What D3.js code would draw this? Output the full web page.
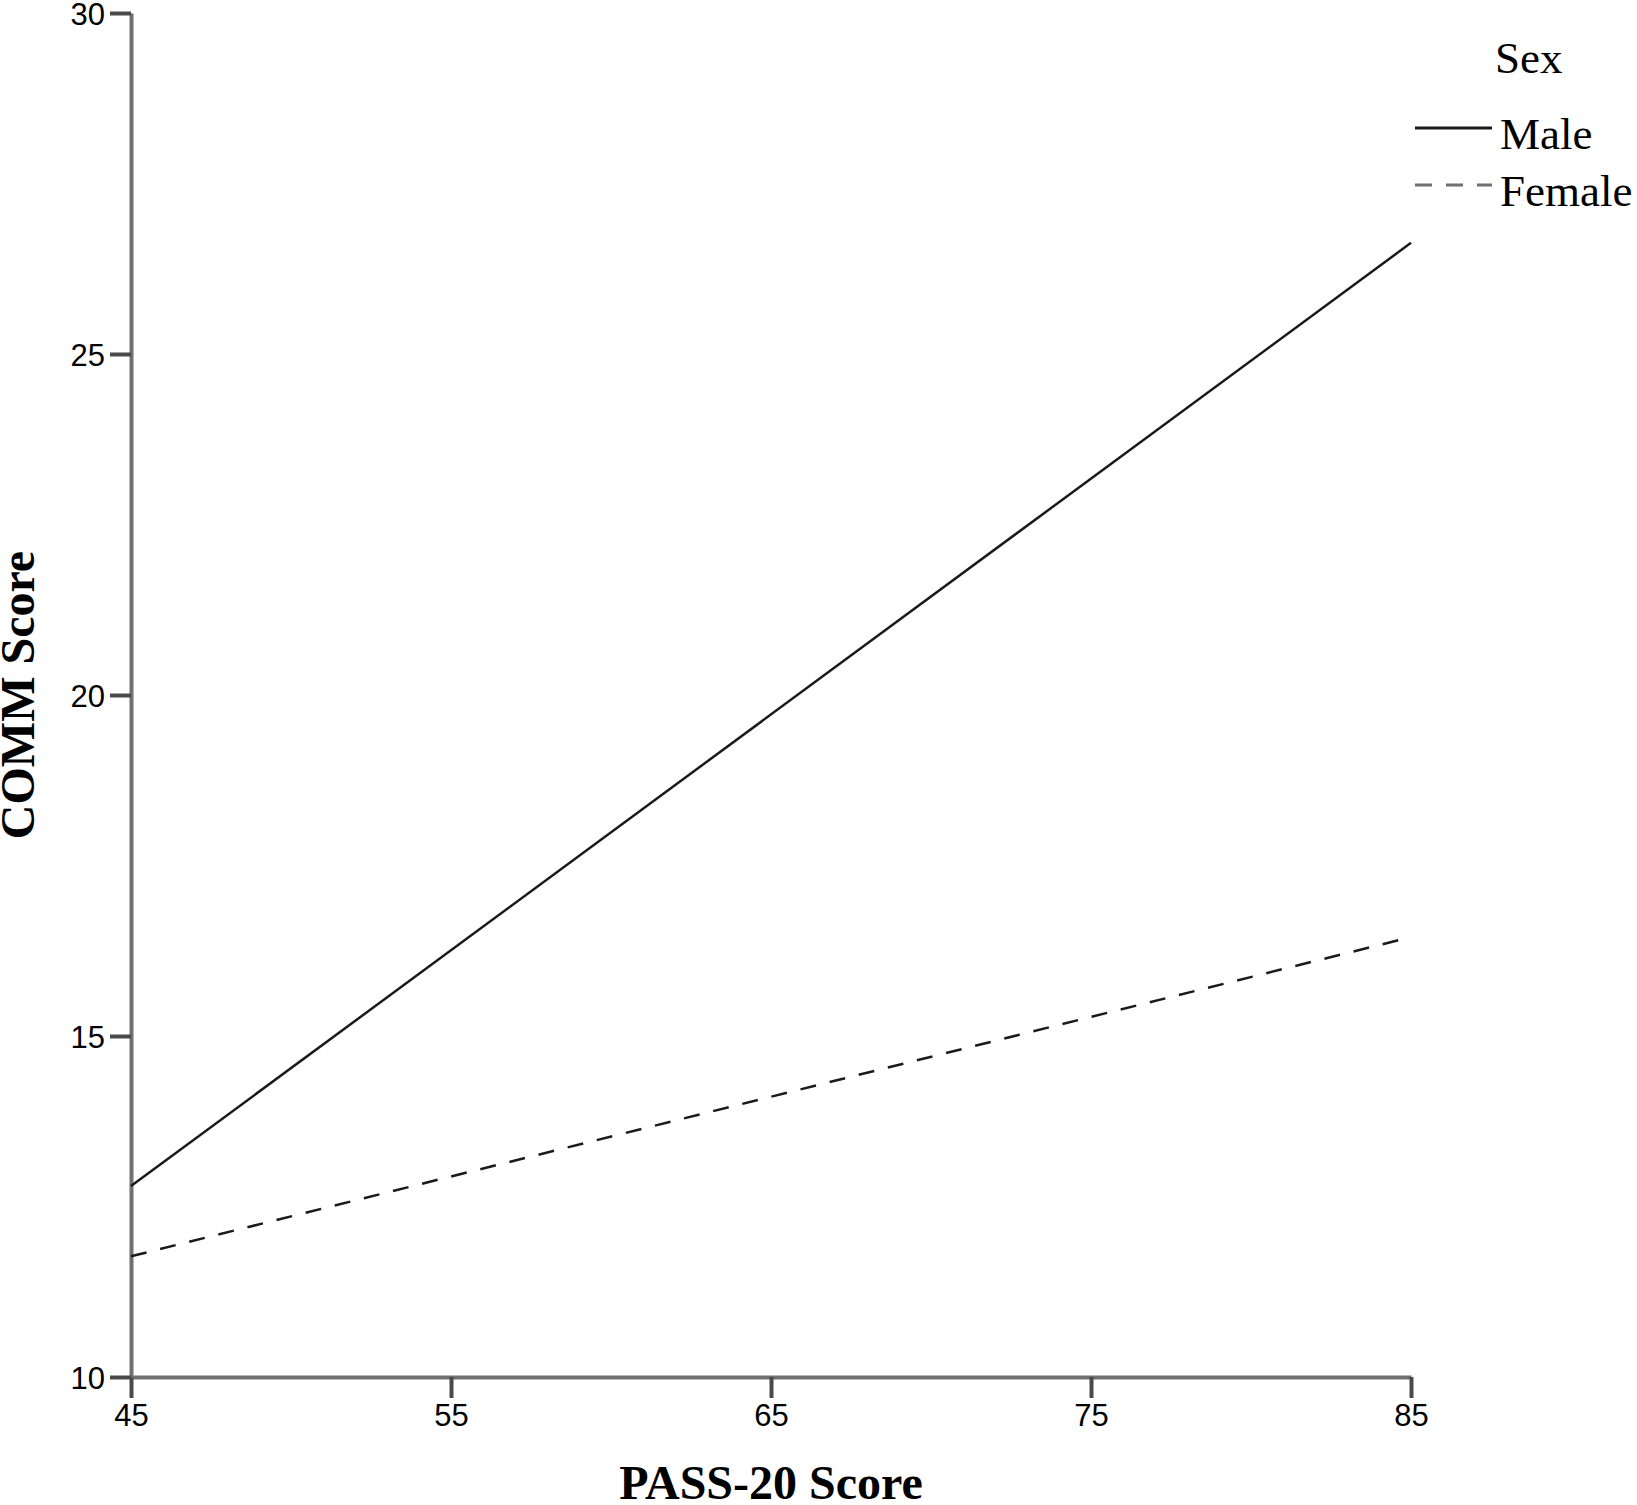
<html>
<head>
<style>
body { margin: 0; background: #fff; }
.tick text { font-family: "Liberation Sans", Arial, sans-serif; font-size: 31px; fill: #000; }
.title { font-family: "Liberation Serif", "Times New Roman", serif; font-weight: bold; font-size: 48px; fill: #000; }
.legend text { font-family: "Liberation Serif", "Times New Roman", serif; font-size: 45px; fill: #000; }
</style>
</head>
<body>
<svg id="container" width="1637" height="1505"></svg>
<script src="https://cdn.jsdelivr.net/npm/d3@7"></script>
<script>
// data
var pass20 = [45, 85];
var maleComm = [12.8, 26.63];
var femaleComm = [11.77, 16.45];
var xTicks = [45, 55, 65, 75, 85];
var yTicks = [10, 15, 20, 25, 30];
var seriesNames = ["Male", "Female"];

var svg = d3.select("#container");
var plotL = 131, plotR = 1411, plotT = 13, plotB = 1377;

var x = d3.scaleLinear().domain([45, 85]).range([plotL, plotR]);
var y = d3.scaleLinear().domain([10, 30]).range([plotB, plotT]);

// axes
var xAxis = svg.append("g")
  .attr("transform", "translate(0," + plotB + ")")
  .call(d3.axisBottom(x).tickValues(xTicks).tickSize(21).tickPadding(6).tickSizeOuter(0));
var yAxis = svg.append("g")
  .attr("transform", "translate(" + plotL + ",0)")
  .call(d3.axisLeft(y).tickValues(yTicks).tickSize(21).tickPadding(5).tickSizeOuter(0));

[xAxis, yAxis].forEach(function(a) {
  a.select(".domain").attr("stroke", "#707070").attr("stroke-width", 4);
  a.selectAll(".tick line").attr("stroke", "#4a4a4a").attr("stroke-width", 4);
  a.attr("font-family", null).attr("font-size", null);
});
yAxis.selectAll(".tick text").attr("dy", "0.36em");

// lines
var line = d3.line().x(function(d) { return x(d[0]); }).y(function(d) { return y(d[1]); });
var series = [
  { name: seriesNames[0], values: d3.zip(pass20, maleComm), dash: null },
  { name: seriesNames[1], values: d3.zip(pass20, femaleComm), dash: "16,14" }
];
svg.selectAll(".fit")
  .data(series)
  .enter()
  .append("path")
  .attr("class", "fit")
  .attr("d", function(d) { return line(d.values); })
  .attr("fill", "none")
  .attr("stroke", "#1a1a1a")
  .attr("stroke-width", 2.5)
  .attr("stroke-dasharray", function(d) { return d.dash; });

// axis titles
svg.append("text").attr("class", "title")
  .attr("x", (plotL + plotR) / 2).attr("y", 1499)
  .attr("text-anchor", "middle").text("PASS-20 Score");
svg.append("text").attr("class", "title")
  .attr("transform", "translate(34," + (plotT + plotB) / 2 + ") rotate(-90)")
  .attr("text-anchor", "middle").text("COMM Score");

// legend
var legend = svg.append("g").attr("class", "legend");
legend.append("text").attr("x", 1495).attr("y", 73).text("Sex");
var items = legend.selectAll(".item")
  .data(series)
  .enter()
  .append("g")
  .attr("class", "item")
  .attr("transform", function(d, i) { return "translate(0," + (128 + i * 57) + ")"; });
items.append("line")
  .attr("x1", 1415).attr("x2", 1492)
  .attr("stroke", function(d, i) { return i ? "#707070" : "#1a1a1a"; })
  .attr("stroke-width", 3)
  .attr("stroke-dasharray", function(d) { return d.dash ? "17,14" : null; });
items.append("text")
  .attr("x", 1500).attr("y", 21)
  .text(function(d) { return d.name; });
</script>
</body>
</html>
